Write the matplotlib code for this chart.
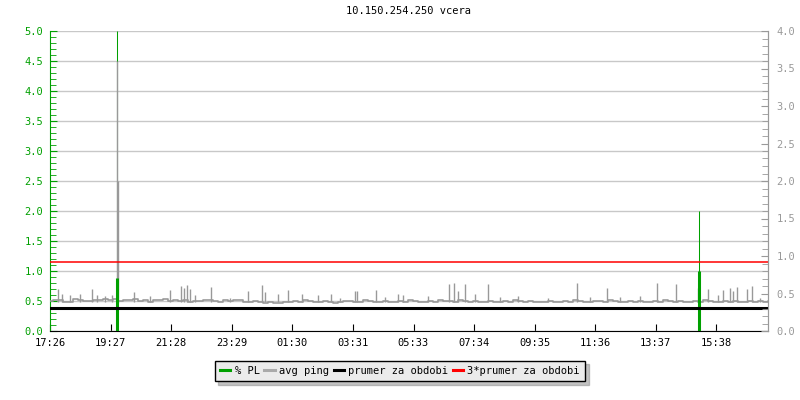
import numpy as np
import matplotlib.pyplot as plt
from matplotlib.lines import Line2D
from matplotlib.ticker import MultipleLocator

plt.rcParams['font.family'] = ['DejaVu Sans Mono']
plt.rcParams['font.size'] = 7.5

title = '10.150.254.250 vcera'
tick_labels = ['17:26', '19:27', '21:28', '23:29', '01:30', '03:31',
               '05:33', '07:34', '09:35', '11:36', '13:37', '15:38']
tick_min = [0, 121, 242, 363, 484, 605, 727, 848, 969, 1090, 1211, 1332]

# avg ping baseline, one value every 10 minutes from 17:26
base_val = [0.50, 0.52, 0.51, 0.49, 0.49, 0.53, 0.52, 0.50, 0.50, 0.52,
            0.51, 0.53, 0.52, 0.54, 0.50, 0.51, 0.51, 0.53, 0.50, 0.52,
            0.49, 0.51, 0.51, 0.53, 0.50, 0.52, 0.50, 0.51, 0.49, 0.50,
            0.50, 0.52, 0.51, 0.50, 0.49, 0.51, 0.50, 0.52, 0.51, 0.49,
            0.48, 0.50, 0.49, 0.47, 0.48, 0.46, 0.47, 0.49, 0.48, 0.50,
            0.49, 0.51, 0.50, 0.48, 0.48, 0.50, 0.49, 0.47, 0.49, 0.50,
            0.50, 0.48, 0.49, 0.51, 0.50, 0.48, 0.49, 0.50, 0.48, 0.49,
            0.50, 0.49, 0.51, 0.50, 0.49, 0.48, 0.50, 0.49, 0.51, 0.50,
            0.50, 0.49, 0.51, 0.50, 0.49, 0.50, 0.48, 0.49, 0.50, 0.48,
            0.49, 0.50, 0.49, 0.51, 0.50, 0.49, 0.50, 0.49, 0.48, 0.49,
            0.50, 0.49, 0.48, 0.50, 0.49, 0.51, 0.50, 0.49, 0.49, 0.50,
            0.50, 0.49, 0.51, 0.50, 0.48, 0.49, 0.50, 0.48, 0.50, 0.49,
            0.49, 0.50, 0.49, 0.51, 0.50, 0.49, 0.50, 0.48, 0.49, 0.50,
            0.49, 0.51, 0.50, 0.49, 0.48, 0.50, 0.49, 0.50, 0.48, 0.49,
            0.50, 0.49, 0.50, 0.49, 0.50]
base_min = np.arange(len(base_val)) * 10

# avg ping spikes (minutes after 17:26, value)
spike_min = [16, 24, 40, 60, 84, 94, 110, 124, 134, 135, 168, 200, 240, 262,
             268, 274, 280, 290, 322, 360, 396, 424, 430, 456, 476, 504, 536,
             562, 580, 610, 614, 652, 670, 696, 706, 756, 798, 808, 816, 830,
             850, 876, 900, 936, 996, 1054, 1080, 1114, 1140, 1180, 1214,
             1252, 1296, 1316, 1336, 1346, 1360, 1366, 1374, 1394, 1404, 1420]
spike_val = [0.70, 0.62, 0.60, 0.62, 0.70, 0.60, 0.58, 0.60, 4.50, 2.50, 0.65,
             0.58, 0.68, 0.75, 0.72, 0.77, 0.70, 0.60, 0.73, 0.55, 0.66, 0.77,
             0.65, 0.62, 0.68, 0.62, 0.60, 0.62, 0.55, 0.66, 0.66, 0.68, 0.56,
             0.62, 0.60, 0.58, 0.78, 0.80, 0.66, 0.78, 0.62, 0.79, 0.56, 0.58,
             0.55, 0.80, 0.56, 0.72, 0.56, 0.58, 0.80, 0.79, 0.72, 0.70, 0.60,
             0.69, 0.72, 0.66, 0.74, 0.70, 0.75, 0.55]

# packet loss
pl_min = [134, 1298]
pl_peak = [5.0, 2.0]
pl_val = [0.88, 1.0]

mean_val = 0.383
mean3_val = 3 * mean_val

green = '#00a000'
gray = '#999999'

fig = plt.figure(figsize=(8, 4), dpi=100)
ax = fig.add_axes([0.0625, 0.1725, 0.8975, 0.75])

ax.set_xlim(0, 1436)
ax.set_ylim(0, 5)
ax.yaxis.set_major_locator(MultipleLocator(0.5))
ax.yaxis.set_minor_locator(MultipleLocator(0.1))
ax.grid(axis='y', color='#c8c8c8', linewidth=1, zorder=0)

ax.vlines(pl_min, 0, pl_peak, color=green, linewidth=0.75, zorder=2)
ax.plot(base_min, base_val, color=gray, linewidth=1.2, drawstyle='steps-mid', zorder=3)
ax.vlines(spike_min, 0.49, spike_val, color=gray, linewidth=1.0, zorder=3)
ax.vlines(pl_min, 0, pl_val, color=green, linewidth=2.2, zorder=4)
ax.axhline(mean_val, color='black', linewidth=2.2, zorder=5)
ax.axhline(mean3_val, color='red', linewidth=1.1, zorder=5)

ax.set_xticks(tick_min)
ax.set_xticklabels(tick_labels)
ax.tick_params(axis='x', direction='in', length=5, pad=5, colors='black')
ax.tick_params(axis='y', which='major', direction='in', length=5, pad=5,
               colors=green)
ax.tick_params(axis='y', which='minor', direction='in', length=4, colors=green)
ax.yaxis.set_major_formatter(plt.FormatStrFormatter('%.1f'))

ax.spines['top'].set_visible(False)
ax.spines['left'].set_color(green)
ax.spines['right'].set_color(gray)
ax.spines['bottom'].set_color('black')

ax2 = ax.twinx()
ax2.set_ylim(0, 4)
ax2.yaxis.set_major_locator(MultipleLocator(0.5))
ax2.yaxis.set_minor_locator(MultipleLocator(0.1))
ax2.yaxis.set_major_formatter(plt.FormatStrFormatter('%.1f'))
ax2.tick_params(axis='y', which='major', direction='in', length=5, pad=6,
                colors=gray)
ax2.tick_params(axis='y', which='minor', direction='in', length=4, colors=gray)
for s in ['top', 'left', 'bottom']:
    ax2.spines[s].set_visible(False)
ax2.spines['right'].set_color(gray)

ax.set_title(title, fontsize=7.5, pad=12)

handles = [Line2D([], [], color=green, linewidth=2.2),
           Line2D([], [], color='#aaaaaa', linewidth=2.2),
           Line2D([], [], color='black', linewidth=2.2),
           Line2D([], [], color='red', linewidth=2.2)]
labels = ['% PL', 'avg ping', 'prumer za obdobi', '3*prumer za obdobi']
leg = fig.legend(handles, labels, loc='center', bbox_to_anchor=(0.5, 0.0725),
                 ncol=4, handlelength=1.0, handletextpad=0.4,
                 columnspacing=0.45, fancybox=False, framealpha=1,
                 edgecolor='black', facecolor='#ebebeb', borderpad=0.5,
                 shadow={'ox': 2.5, 'oy': -2.5, 'color': '#888888'})
leg.get_frame().set_linewidth(1)

fig.savefig('out.png', dpi=100)
